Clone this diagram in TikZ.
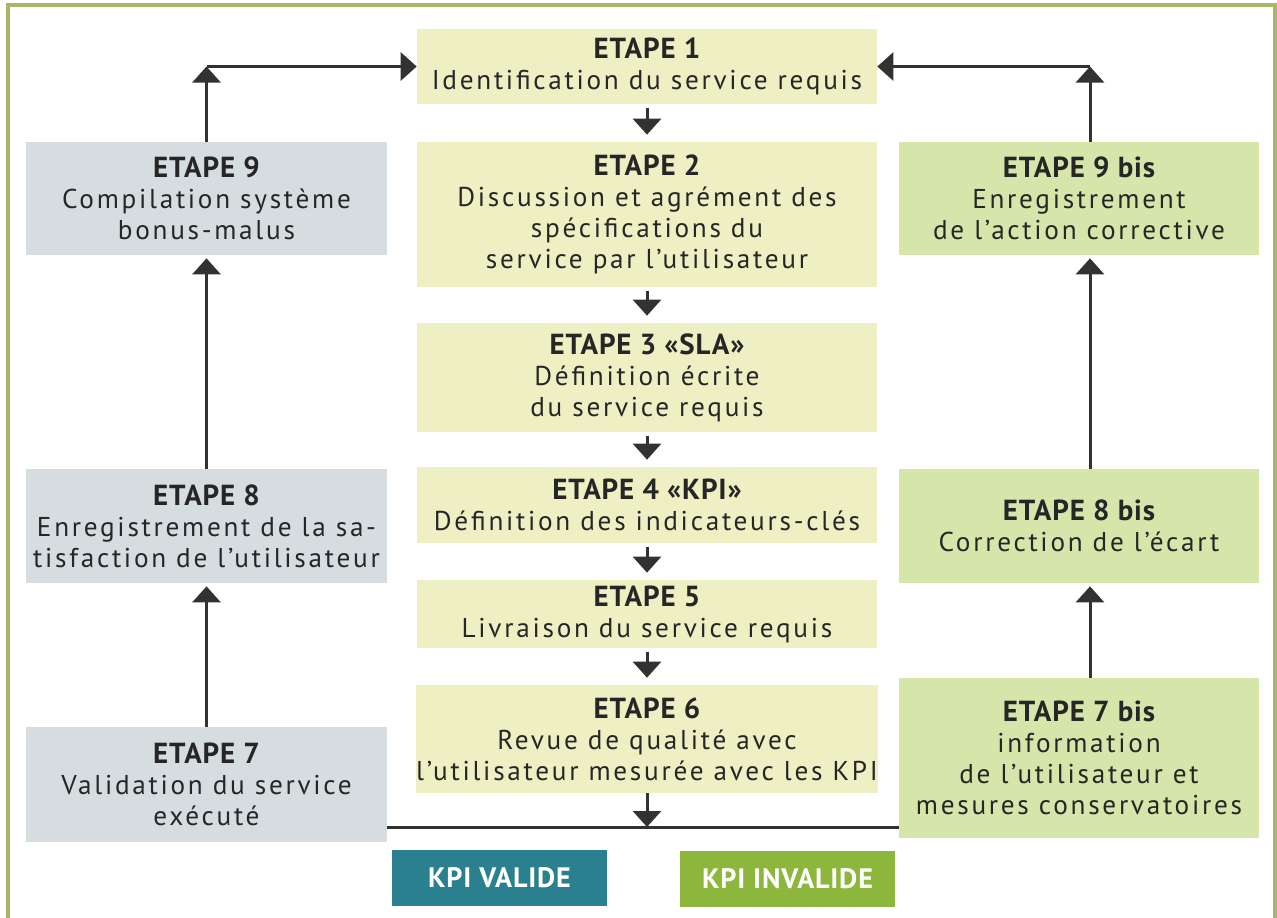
\documentclass[tikz,border=0pt]{standalone}
\usepackage{fontspec}
\setmainfont{PT Sans}[LetterSpace=10,BoldFeatures={LetterSpace=3}]
\usetikzlibrary{arrows.meta}
\definecolor{paleyel}{RGB}{238,240,196}
\definecolor{greybl}{RGB}{214,221,225}
\definecolor{lightgr}{RGB}{214,229,170}
\definecolor{kpiteal}{RGB}{42,128,142}
\definecolor{kpigreen}{RGB}{141,183,60}
\definecolor{framegr}{RGB}{170,182,102}
\definecolor{arrowgr}{RGB}{50,50,50}
\newcommand{\titre}[1]{{\fontsize{16.5}{17.6}\selectfont\bfseries #1}}
\begin{document}
\begin{tikzpicture}[x=0.02cm,y=-0.02cm,
  etape/.style={fill=paleyel,minimum width=9.2cm,align=center,inner sep=0pt,text=black!85,
    font=\fontsize{15.5}{17.6}\selectfont},
  gauche/.style={etape,fill=greybl,minimum width=7.22cm},
  droite/.style={etape,fill=lightgr,minimum width=7.2cm},
  kpi/.style={fill=#1,text=white,font=\fontsize{16}{18}\selectfont\bfseries,
    minimum width=4.3cm,minimum height=1.12cm,inner sep=0pt},
  fleche/.style={draw=arrowgr,line width=1.7pt,-{Triangle[width=0.56cm,length=0.32cm]}},
  trait/.style={draw=arrowgr,line width=1.7pt}]
\useasboundingbox (0,0) rectangle (1277,917);
\draw[framegr,line width=2pt] (8,930) -- (8,5) -- (1275,5) -- (1275,930);
% colonne centrale
\node[etape,minimum height=1.5cm] (e1) at (647,66.5) {\titre{ETAPE 1}\\Identification du service requis};
\node[etape,minimum height=2.9cm] (e2) at (647,214.5) {\titre{ETAPE 2}\\Discussion et agrément des\\spécifications du\\service par l’utilisateur};
\node[etape,minimum height=2.18cm] (e3) at (647,377.5) {\titre{ETAPE 3 «SLA»}\\Définition écrite\\du service requis};
\node[etape,minimum height=1.52cm] (e4) at (647,505) {\titre{ETAPE 4 «KPI»}\\Définition des indicateurs-clés};
\node[etape,minimum height=1.36cm] (e5) at (647,614) {\titre{ETAPE 5}\\Livraison du service requis};
\node[etape,minimum height=2.16cm] (e6) at (647,739) {\titre{ETAPE 6}\\Revue de qualité avec\\l’utilisateur mesurée avec les KPI};
% colonne gauche
\node[gauche,minimum height=2.26cm] (e9) at (206.5,198.5) {\titre{ETAPE 9}\\Compilation système\\bonus-malus};
\node[gauche,minimum height=2.28cm] (e8) at (206.5,526) {\titre{ETAPE 8}\\Enregistrement de la sa-\\tisfaction de l’utilisateur};
\node[gauche,minimum height=2.3cm] (e7) at (206.5,784.5) {\titre{ETAPE 7}\\Validation du service\\exécuté};
% colonne droite
\node[droite,minimum height=2.26cm] (e9b) at (1079,198.5) {\titre{ETAPE 9 bis}\\Enregistrement\\de l’action corrective};
\node[droite,minimum height=2.28cm] (e8b) at (1079,526) {\titre{ETAPE 8 bis}\\Correction de l’écart};
\node[droite,minimum height=3.2cm] (e7b) at (1079,758) {\titre{ETAPE 7 bis}\\information\\de l’utilisateur et\\mesures conservatoires};
% legende
\node[kpi=kpiteal] (kv) at (499.5,878) {KPI VALIDE};
\node[kpi=kpigreen] (ki) at (787.5,879) {KPI INVALIDE};
\coordinate (hg) at (e9.north |- e1.west);
\coordinate (hd) at (1090,66.5);
\coordinate (kpi) at (647,827);
\foreach \a/\b in {e1/e2,e2/e3,e3/e4,e4/e5,e5/e6}
  \draw[fleche,shorten <=2pt,shorten >=0.14cm] (\a) -- (\b);
\draw[fleche] (e9) -- (hg);
\draw[fleche] (hg) -- (e1);
\draw[fleche] (e9b.north -| hd) -- (hd);
\draw[fleche] (hd) -- (e1);
\draw[fleche,shorten >=0.06cm] (e8) -- (e9);
\draw[fleche,shorten >=0.06cm] (e7) -- (e8);
\draw[fleche,shorten >=0.06cm] (e8b.north -| hd) -- (e9b.south -| hd);
\draw[fleche,shorten >=0.06cm] (e7b.north -| hd) -- (e8b.south -| hd);
\draw[fleche] (e6) -- (kpi);
\draw[trait] (e7.east |- kpi) -- (e7b.west |- kpi);
\end{tikzpicture}
\end{document}
